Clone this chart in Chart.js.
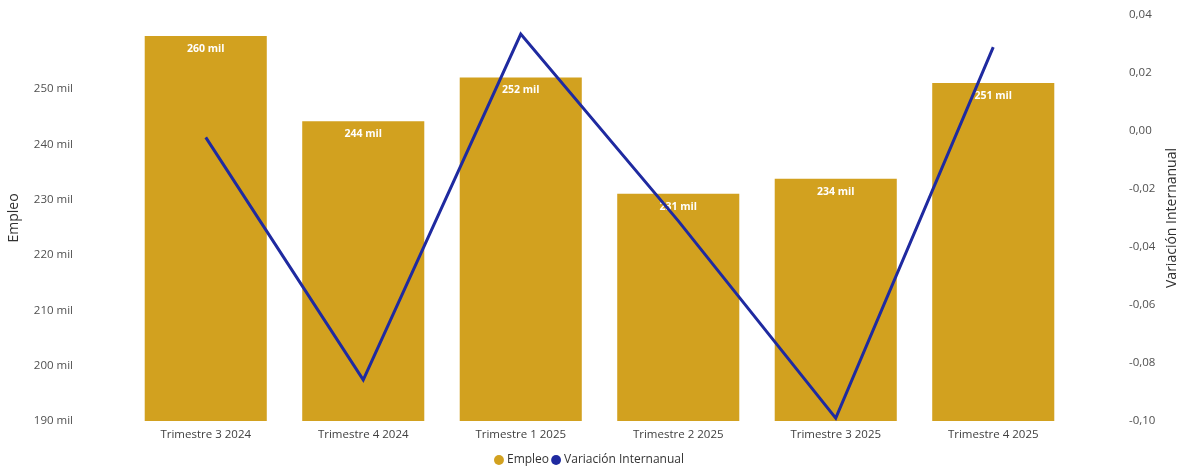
<!DOCTYPE html>
<html>
<head>
<meta charset="utf-8">
<script src="https://cdn.jsdelivr.net/npm/chart.js@4"></script>
<style>
  html, body { margin: 0; padding: 0; background: #fff; }
  #wrap { width: 1181px; height: 468px; position: relative; }
</style>
</head>
<body>
<div id="wrap"><canvas id="chart" width="1181" height="468"></canvas></div>
<script>
// --- Data ---
const categories = ['Trimestre 3 2024', 'Trimestre 4 2024', 'Trimestre 1 2025', 'Trimestre 2 2025', 'Trimestre 3 2025', 'Trimestre 4 2025'];
const empleo = [259.6, 244.2, 252.1, 231.1, 233.8, 251.1];          // miles
const variacion = [-0.0022, -0.0858, 0.0334, -0.031, -0.099, 0.0289];
const empleoTicks = [190, 200, 210, 220, 230, 240, 250];
const variacionTicks = [-0.10, -0.08, -0.06, -0.04, -0.02, 0.00, 0.02, 0.04];

const FONT = "'Segoe UI', 'Open Sans', sans-serif";
const GOLD = '#D2A11F';
const BLUE = '#1F2AA0';

// bar labels drawn after the bars, before the line
const barLabels = {
    id: 'barLabels',
    afterDatasetDraw(chart, args) {
        if (args.index !== 0) return;
        const ctx = chart.ctx;
        ctx.save();
        ctx.font = 'bold 10.5px ' + FONT;
        ctx.fillStyle = '#ffffff';
        ctx.textAlign = 'center';
        ctx.textBaseline = 'middle';
        args.meta.data.forEach((bar, i) => {
            ctx.fillText(Math.round(empleo[i]) + ' mil', bar.x, bar.y + 13);
        });
        ctx.restore();
    }
};

// right axis title reads bottom-to-top like the left one
const rightTitle = {
    id: 'rightTitle',
    afterDraw(chart) {
        const s = chart.scales.y1;
        const ctx = chart.ctx;
        ctx.save();
        ctx.translate(s.right - 9, (chart.chartArea.top + chart.chartArea.bottom) / 2);
        ctx.rotate(-Math.PI / 2);
        ctx.font = '14px ' + FONT;
        ctx.fillStyle = '#303030';
        ctx.textAlign = 'center';
        ctx.textBaseline = 'middle';
        ctx.fillText('Variación Internanual', 0, 0);
        ctx.restore();
    }
};

// keep the big tick padding from eating vertical space
const noVertPad = s => { s.paddingTop = 0; s.paddingBottom = 0; };

new Chart(document.getElementById('chart'), {
    data: {
        labels: categories,
        datasets: [{
            type: 'bar',
            label: 'Empleo',
            data: empleo,
            backgroundColor: GOLD,
            yAxisID: 'y',
            order: 1,
            barPercentage: 0.775,
            categoryPercentage: 1
        }, {
            type: 'line',
            label: 'Variación Internanual',
            data: variacion,
            borderColor: BLUE,
            backgroundColor: BLUE,
            borderWidth: 3,
            pointRadius: 0,
            pointStyle: 'circle',
            tension: 0,
            yAxisID: 'y1',
            order: 0
        }]
    },
    options: {
        responsive: false,
        animation: false,
        layout: { padding: { top: 15, left: 0, right: 0, bottom: -8 } },
        plugins: {
            legend: {
                position: 'bottom',
                labels: {
                    usePointStyle: true,
                    pointStyle: 'circle',
                    boxWidth: 4,
                    boxHeight: 7,
                    padding: 5,
                    color: '#333333',
                    font: { family: FONT, size: 12 },
                    sort: (a, b) => a.datasetIndex - b.datasetIndex,
                    generateLabels: chart => Chart.defaults.plugins.legend.labels.generateLabels(chart)
                        .map(item => Object.assign(item, { lineWidth: 0, strokeStyle: item.fillStyle }))
                }
            },
            tooltip: { enabled: false }
        },
        scales: {
            x: {
                grid: { display: false, drawTicks: false },
                border: { display: false },
                afterFit: s => { s.height = 28; },
                ticks: { color: '#404040', font: { family: FONT, size: 11.5 }, padding: 7, maxRotation: 0 }
            },
            y: {
                position: 'left',
                min: 190,
                max: 263.4,
                grid: { display: false, drawTicks: false },
                border: { display: false },
                afterBuildTicks: s => { s.ticks = empleoTicks.map(v => ({ value: v })); },
                afterFit: s => { s.width = 127; noVertPad(s); },
                ticks: {
                    color: '#505050',
                    padding: 54,
                    font: { family: FONT, size: 11.5 },
                    callback: v => v + ' mil'
                },
                title: {
                    display: true,
                    text: 'Empleo',
                    color: '#303030',
                    font: { family: FONT, size: 14 },
                    padding: { top: 6, bottom: 0 }
                }
            },
            y1: {
                position: 'right',
                min: -0.10,
                max: 0.04,
                grid: { display: false, drawTicks: false },
                border: { display: false },
                afterBuildTicks: s => { s.ticks = variacionTicks.map(v => ({ value: v })); },
                afterFit: s => { s.width = 109; noVertPad(s); },
                ticks: {
                    color: '#505050',
                    padding: 57,
                    font: { family: FONT, size: 11.5 },
                    callback: v => (Math.abs(v) < 1e-9 ? 0 : v).toFixed(2).replace('.', ',')
                }
            }
        }
    },
    plugins: [barLabels, rightTitle]
});
</script>
</body>
</html>
